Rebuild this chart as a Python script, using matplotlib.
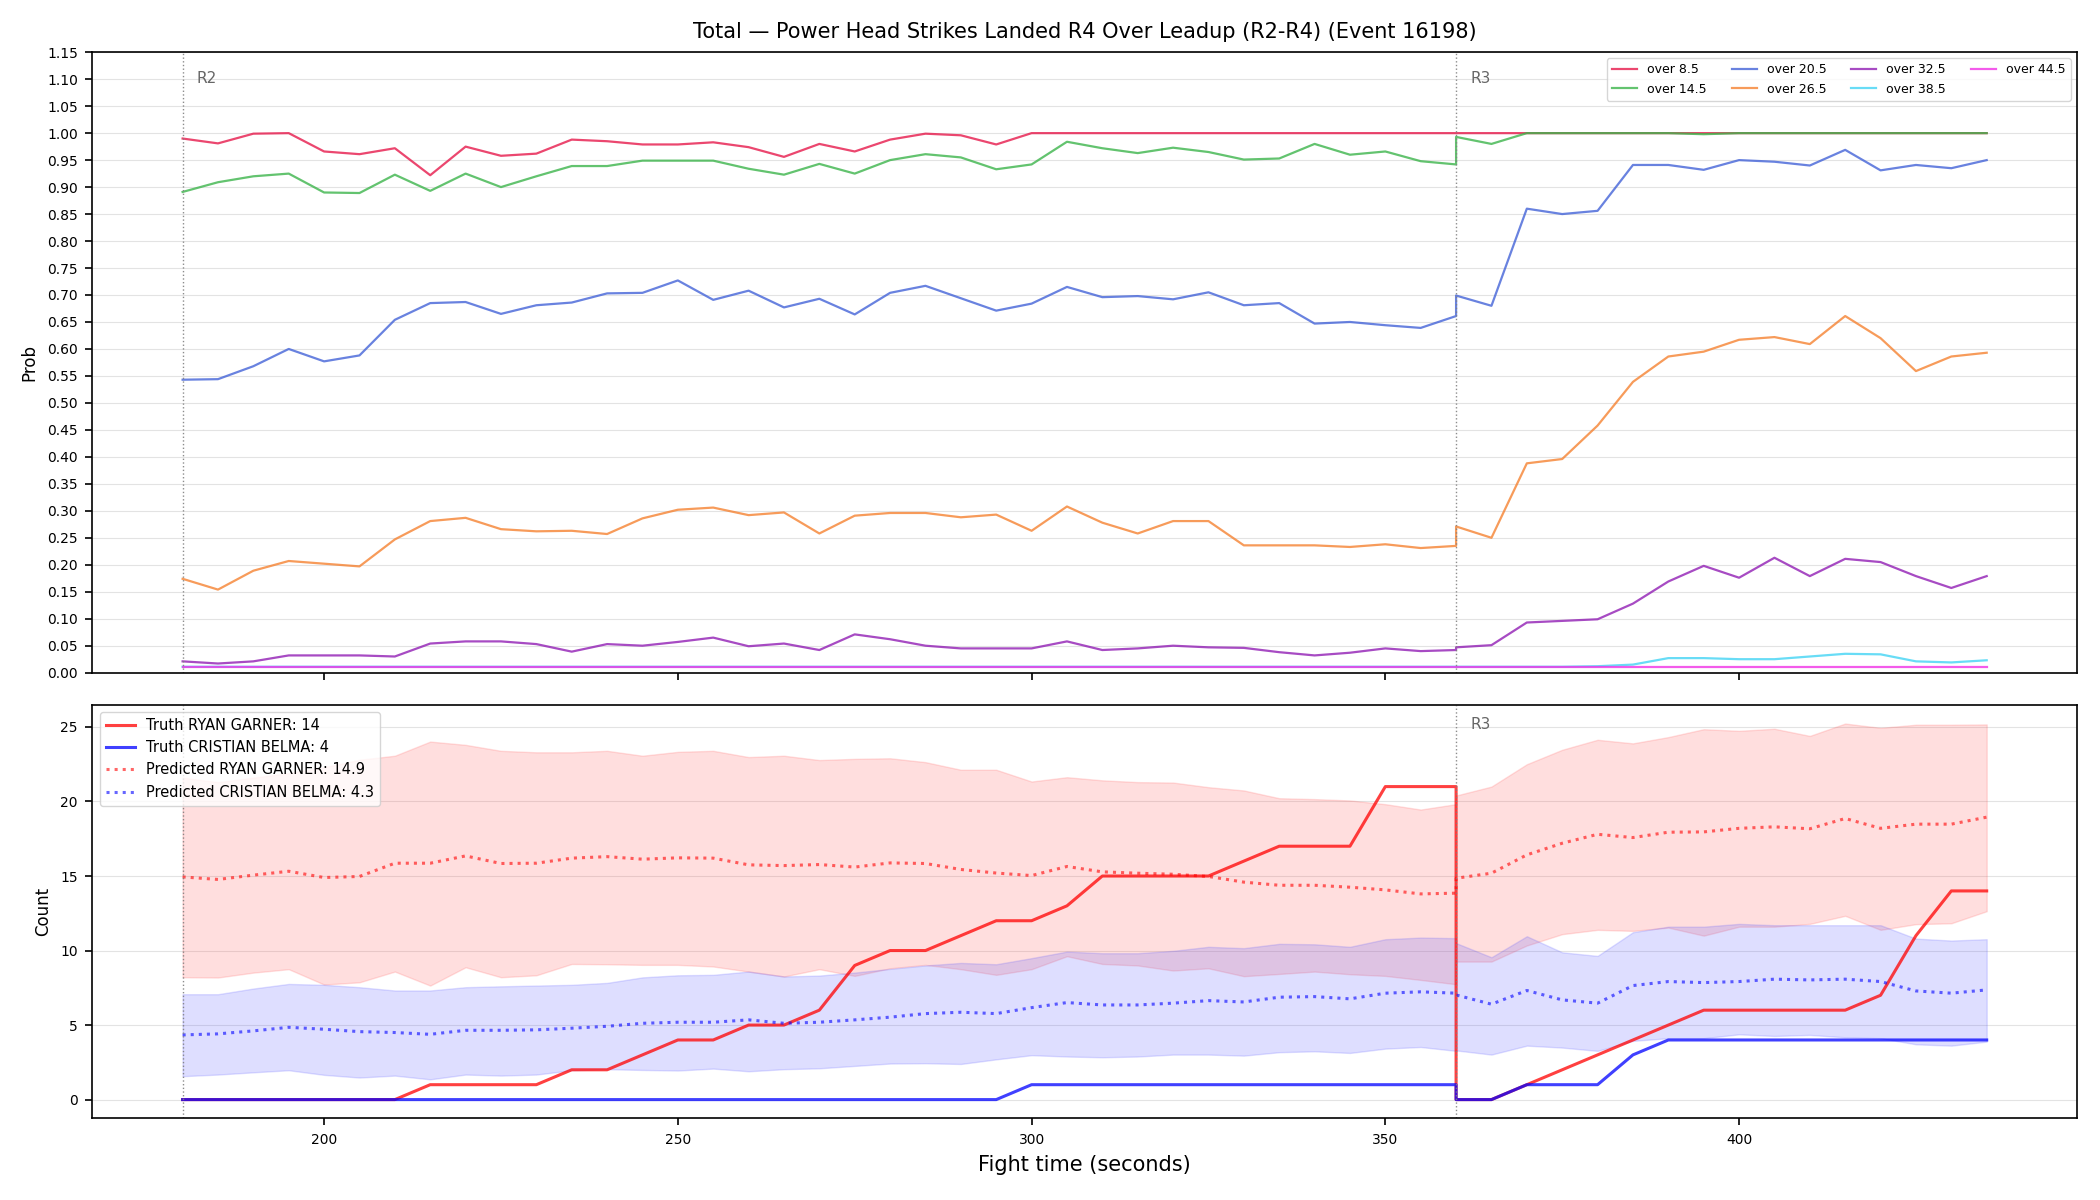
import matplotlib
matplotlib.use("Agg")
import matplotlib.pyplot as plt

# ---------------- data ----------------
times = [180, 185, 190, 195, 200, 205, 210, 215, 220, 225, 230, 235, 240, 245,
         250, 255, 260, 265, 270, 275, 280, 285, 290, 295, 300, 305, 310, 315,
         320, 325, 330, 335, 340, 345, 350, 355, 360,
         360, 365, 370, 375, 380, 385, 390, 395, 400, 405, 410, 415, 420, 425,
         430, 435]

round_starts = [180, 360]
round_labels = ["R2", "R3"]

over_labels = ["over 8.5", "over 14.5", "over 20.5", "over 26.5",
               "over 32.5", "over 38.5", "over 44.5"]

p_over_8_5 = [0.990, 0.981, 0.999, 1.000, 0.966, 0.961, 0.972, 0.922, 0.975, 0.958,
              0.962, 0.988, 0.985, 0.979, 0.979, 0.983, 0.974, 0.956, 0.980, 0.966,
              0.988, 0.999, 0.996, 0.979, 1.000, 1.000, 1.000, 1.000, 1.000, 1.000,
              1.000, 1.000, 1.000, 1.000, 1.000, 1.000, 1.000,
              1.000, 1.000, 1.000, 1.000, 1.000, 1.000, 1.000, 1.000, 1.000, 1.000,
              1.000, 1.000, 1.000, 1.000, 1.000, 1.000]
p_over_14_5 = [0.891, 0.909, 0.920, 0.925, 0.890, 0.889, 0.923, 0.893, 0.925, 0.900,
               0.920, 0.939, 0.939, 0.949, 0.949, 0.949, 0.934, 0.923, 0.943, 0.925,
               0.950, 0.961, 0.955, 0.933, 0.942, 0.984, 0.972, 0.963, 0.973, 0.965,
               0.951, 0.953, 0.980, 0.960, 0.966, 0.948, 0.942,
               0.993, 0.980, 1.000, 1.000, 1.000, 1.000, 1.000, 0.998, 1.000, 1.000,
               1.000, 1.000, 1.000, 1.000, 1.000, 1.000]
p_over_20_5 = [0.543, 0.544, 0.568, 0.600, 0.577, 0.588, 0.654, 0.685, 0.687, 0.665,
               0.681, 0.686, 0.703, 0.704, 0.727, 0.691, 0.708, 0.677, 0.693, 0.664,
               0.704, 0.717, 0.694, 0.671, 0.684, 0.715, 0.696, 0.698, 0.692, 0.705,
               0.681, 0.685, 0.647, 0.650, 0.644, 0.639, 0.661,
               0.699, 0.680, 0.860, 0.850, 0.856, 0.941, 0.941, 0.932, 0.950, 0.947,
               0.940, 0.969, 0.931, 0.941, 0.935, 0.950]
p_over_26_5 = [0.174, 0.154, 0.189, 0.207, 0.202, 0.197, 0.247, 0.281, 0.287, 0.266,
               0.262, 0.263, 0.257, 0.286, 0.302, 0.306, 0.292, 0.297, 0.258, 0.291,
               0.296, 0.296, 0.288, 0.293, 0.263, 0.308, 0.278, 0.258, 0.281, 0.281,
               0.236, 0.236, 0.236, 0.233, 0.238, 0.231, 0.235,
               0.271, 0.250, 0.388, 0.396, 0.458, 0.539, 0.586, 0.595, 0.617, 0.622,
               0.609, 0.661, 0.620, 0.559, 0.586, 0.593]
p_over_32_5 = [0.021, 0.017, 0.021, 0.032, 0.032, 0.032, 0.030, 0.054, 0.058, 0.058,
               0.053, 0.039, 0.053, 0.050, 0.057, 0.065, 0.049, 0.054, 0.042, 0.071,
               0.062, 0.050, 0.045, 0.045, 0.045, 0.058, 0.042, 0.045, 0.050, 0.047,
               0.046, 0.038, 0.032, 0.037, 0.045, 0.040, 0.042,
               0.047, 0.051, 0.093, 0.096, 0.099, 0.128, 0.169, 0.198, 0.176, 0.213,
               0.179, 0.211, 0.205, 0.179, 0.157, 0.179]
p_over_38_5 = [0.011, 0.011, 0.011, 0.011, 0.011, 0.011, 0.011, 0.011, 0.011, 0.011,
               0.011, 0.011, 0.011, 0.011, 0.011, 0.011, 0.011, 0.011, 0.011, 0.011,
               0.011, 0.011, 0.011, 0.011, 0.011, 0.011, 0.011, 0.011, 0.011, 0.011,
               0.011, 0.011, 0.011, 0.011, 0.011, 0.011, 0.011,
               0.011, 0.011, 0.011, 0.011, 0.012, 0.015, 0.027, 0.027, 0.025, 0.025,
               0.030, 0.035, 0.034, 0.021, 0.019, 0.023]
p_over_44_5 = [0.010, 0.010, 0.010, 0.010, 0.010, 0.010, 0.010, 0.010, 0.010, 0.010,
               0.010, 0.010, 0.010, 0.010, 0.010, 0.010, 0.010, 0.010, 0.010, 0.010,
               0.010, 0.010, 0.010, 0.010, 0.010, 0.010, 0.010, 0.010, 0.010, 0.010,
               0.010, 0.010, 0.010, 0.010, 0.010, 0.010, 0.010,
               0.010, 0.010, 0.010, 0.010, 0.010, 0.010, 0.010, 0.010, 0.010, 0.010,
               0.010, 0.010, 0.010, 0.010, 0.010, 0.010]

truth_garner = [0, 0, 0, 0, 0, 0, 0, 1, 1, 1, 1, 2, 2, 3, 4, 4, 5, 5, 6, 9,
                10, 10, 11, 12, 12, 13, 15, 15, 15, 15, 16, 17, 17, 17, 21, 21, 21,
                0, 0, 1, 2, 3, 4, 5, 6, 6, 6, 6, 6, 7, 11, 14, 14]
truth_belma = [0, 0, 0, 0, 0, 0, 0, 0, 0, 0, 0, 0, 0, 0, 0, 0, 0, 0, 0, 0,
               0, 0, 0, 0, 1, 1, 1, 1, 1, 1, 1, 1, 1, 1, 1, 1, 1,
               0, 0, 1, 1, 1, 3, 4, 4, 4, 4, 4, 4, 4, 4, 4, 4]

pred_garner = [14.94, 14.77, 15.06, 15.32, 14.90, 14.97, 15.86, 15.86, 16.35, 15.84,
               15.86, 16.20, 16.30, 16.13, 16.22, 16.20, 15.75, 15.70, 15.77, 15.60,
               15.88, 15.84, 15.44, 15.20, 15.03, 15.64, 15.28, 15.19, 15.12, 14.97,
               14.59, 14.38, 14.38, 14.25, 14.07, 13.80, 13.85,
               14.85, 15.19, 16.42, 17.20, 17.80, 17.58, 17.94, 17.96, 18.20, 18.30,
               18.17, 18.86, 18.20, 18.48, 18.48, 18.95]
garner_hi = [21.6, 21.3, 21.6, 21.9, 22.3, 22.8, 23.07, 24.02, 23.8, 23.4,
             23.3, 23.3, 23.4, 23.07, 23.33, 23.4, 22.98, 23.07, 22.78, 22.86,
             22.9, 22.64, 22.13, 22.13, 21.34, 21.63, 21.42, 21.3, 21.27, 20.96,
             20.74, 20.22, 20.16, 20.07, 19.82, 19.46, 19.82,
             20.4, 21.0, 22.5, 23.47, 24.14, 23.9, 24.32, 24.85, 24.74, 24.88,
             24.4, 25.23, 24.94, 25.15, 25.15, 25.17]
garner_lo = [8.21, 8.19, 8.52, 8.75, 7.72, 7.87, 8.59, 7.65, 8.88, 8.21,
             8.34, 9.10, 9.08, 9.04, 9.04, 8.93, 8.59, 8.26, 8.75, 8.30,
             8.81, 9.04, 8.75, 8.37, 8.75, 9.62, 9.10, 9.00, 8.66, 8.81,
             8.28, 8.43, 8.59, 8.41, 8.30, 8.03, 7.74,
             9.26, 9.26, 10.34, 11.10, 11.39, 11.32, 11.54, 11.00, 11.60, 11.60,
             11.79, 12.33, 11.39, 11.77, 11.83, 12.64]

pred_belma = [4.34, 4.41, 4.61, 4.85, 4.72, 4.56, 4.50, 4.38, 4.65, 4.65,
              4.68, 4.79, 4.92, 5.12, 5.19, 5.19, 5.35, 5.12, 5.19, 5.35,
              5.53, 5.77, 5.86, 5.77, 6.17, 6.51, 6.35, 6.35, 6.47, 6.64,
              6.55, 6.87, 6.91, 6.76, 7.14, 7.23, 7.14,
              7.02, 6.40, 7.32, 6.69, 6.47, 7.65, 7.92, 7.85, 7.92, 8.08,
              8.03, 8.08, 7.92, 7.29, 7.14, 7.36]
belma_hi = [7.07, 7.07, 7.45, 7.76, 7.70, 7.54, 7.32, 7.32, 7.54, 7.60,
            7.65, 7.70, 7.83, 8.20, 8.34, 8.37, 8.59, 8.26, 8.32, 8.52,
            8.77, 9.00, 9.17, 9.08, 9.49, 9.93, 9.82, 9.82, 9.98, 10.25,
            10.16, 10.45, 10.42, 10.25, 10.76, 10.87, 10.83,
            10.50, 9.55, 10.96, 9.88, 9.64, 11.23, 11.60, 11.60, 11.79, 11.70,
            11.70, 11.70, 11.70, 10.80, 10.67, 10.76]
belma_lo = [1.57, 1.68, 1.83, 1.97, 1.66, 1.48, 1.61, 1.36, 1.68, 1.61,
            1.68, 1.97, 2.04, 1.99, 1.95, 2.08, 1.90, 2.04, 2.10, 2.26,
            2.42, 2.44, 2.39, 2.70, 2.98, 2.89, 2.84, 2.89, 3.02, 3.02,
            2.95, 3.18, 3.24, 3.13, 3.42, 3.53, 3.27,
            3.30, 3.02, 3.62, 3.49, 3.27, 3.94, 4.12, 4.12, 4.38, 4.27,
            4.34, 4.18, 4.12, 3.71, 3.62, 3.89]

fighter_a = "RYAN GARNER"
fighter_b = "CRISTIAN BELMA"

# ---------------- style ----------------
over_series = [p_over_8_5, p_over_14_5, p_over_20_5, p_over_26_5,
               p_over_32_5, p_over_38_5, p_over_44_5]
over_colors = ['#e6194b', '#3cb44b', '#4363d8', '#f58231',
               '#911eb4', '#42d4f4', '#f032e6']

plt.rcParams['axes.linewidth'] = 1.2

fig, (ax1, ax2) = plt.subplots(2, 1, figsize=(21, 12), dpi=100, sharex=True,
                               gridspec_kw={'height_ratios': [3, 2]})
fig.subplots_adjust(left=0.044, right=0.989, top=0.9565, bottom=0.068, hspace=0.062)

# ---- top panel ----
for vals, lab, col in zip(over_series, over_labels, over_colors):
    ax1.plot(times, vals, color=col, alpha=0.8, lw=1.6, label=lab)
ax1.set_ylim(0, 1.15)
ax1.set_yticks([i * 0.05 for i in range(24)])
ax1.set_ylabel("Prob", fontsize=12, labelpad=6)
ax1.grid(True, axis='y', color='#b0b0b0', alpha=0.35)
ax1.set_axisbelow(True)
ax1.legend(loc='upper right', ncol=4, fontsize=9)
ax1.set_title("Total \u2014 Power Head Strikes Landed R4 Over Leadup (R2-R4) (Event 16198)",
              fontsize=15, pad=10)

# ---- bottom panel ----
ax2.fill_between(times, garner_lo, garner_hi, color='#ff4d4d', alpha=0.18)
ax2.fill_between(times, belma_lo, belma_hi, color='#4d4dff', alpha=0.18)
ax2.plot(times, truth_garner, color='red', alpha=0.75, lw=2.2,
         label=f"Truth {fighter_a}: {truth_garner[-1]}")
ax2.plot(times, truth_belma, color='blue', alpha=0.75, lw=2.2,
         label=f"Truth {fighter_b}: {truth_belma[-1]}")
ax2.plot(times, pred_garner, color='red', alpha=0.6, lw=2.2, ls=':',
         label=f"Predicted {fighter_a}: {pred_garner[0]:.1f}")
ax2.plot(times, pred_belma, color='blue', alpha=0.6, lw=2.2, ls=':',
         label=f"Predicted {fighter_b}: {pred_belma[0]:.1f}")
ax2.set_ylabel("Count", fontsize=12, labelpad=6)
ax2.set_xlabel("Fight time (seconds)", fontsize=15, labelpad=6)
ax2.grid(True, axis='y', color='#b0b0b0', alpha=0.35)
ax2.set_axisbelow(True)

for i, ax in enumerate((ax1, ax2)):
    ax.tick_params(labelsize=10, length=5.25, width=1.2, pad=5.25)
    for xs, lab in zip(round_starts, round_labels):
        ax.axvline(xs, color='gray', ls=':', lw=1, alpha=0.9)
        # in the lower panel the first round label sits under the legend
        if i == 1 and xs == round_starts[0]:
            continue
        ax.text(xs + 2, 0.97, lab, transform=ax.get_xaxis_transform(),
                ha='left', va='top', color='#666666', fontsize=11)

ax2.legend(loc='upper left', fontsize=10.5)

fig.savefig("out.png", dpi=100)
